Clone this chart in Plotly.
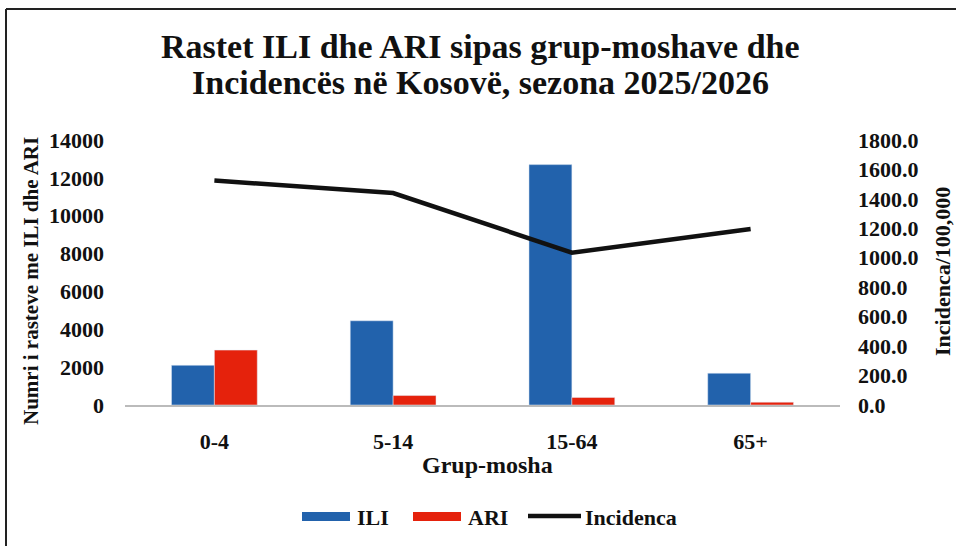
import plotly.graph_objects as go

categories = ["0-4", "5-14", "15-64", "65+"]
ili = [2100, 4450, 12700, 1680]
ari = [2900, 500, 400, 150]
incidenca = [1525, 1440, 1035, 1195]

W, H = 956, 546
L, R, T, B = 125, 840, 140, 405

def px(x):
    return (x - L) / (R - L)

def py(y):
    return (B - y) / (B - T)

FONT = "Liberation Serif"
INK = "#111111"
ILI_C = "#2262AC"
ARI_C = "#E5220C"

def bfont(size):
    return dict(size=size, family=FONT, color=INK, weight="bold")

fig = go.Figure()
fig.add_trace(go.Bar(x=categories, y=ili, name="ILI", marker_color=ILI_C, yaxis="y"))
fig.add_trace(go.Bar(x=categories, y=ari, name="ARI", marker_color=ARI_C, yaxis="y"))
fig.add_trace(go.Scatter(x=categories, y=incidenca, name="Incidenca", mode="lines",
                         line=dict(color=INK, width=4.5), yaxis="y2"))

ann = [
    dict(text="<b>Rastet ILI dhe ARI sipas grup-moshave dhe</b>", x=px(480), y=py(46),
         font=bfont(34)),
    dict(text="<b>Incidencës në Kosovë, sezona 2025/2026</b>", x=px(480), y=py(82),
         font=bfont(34)),
    dict(text="<b>Numri i rasteve me ILI dhe ARI</b>", textangle=-90,
         x=px(31), y=py(281), font=bfont(21)),
    dict(text="<b>Incidenca/100,000</b>", textangle=-90,
         x=px(942), y=py(272), font=bfont(22)),
    dict(text="<b>Grup-mosha</b>", x=px(487), y=py(465), font=bfont(24)),
    dict(text="<b>ILI</b>", x=px(355), y=py(517), xanchor="left", font=bfont(22)),
    dict(text="<b>ARI</b>", x=px(466), y=py(517), xanchor="left", font=bfont(22)),
    dict(text="<b>Incidenca</b>", x=px(583), y=py(517), xanchor="left", font=bfont(22)),
]
for a in ann:
    a.update(xref="paper", yref="paper", showarrow=False)
    a.setdefault("xanchor", "center")
    a.setdefault("yanchor", "middle")

shapes = [
    dict(type="line", x0=px(6), x1=px(6), y0=py(9), y1=py(546),
         line=dict(color="#222222", width=2)),
    dict(type="line", x0=px(6), x1=px(956), y0=py(9), y1=py(9),
         line=dict(color="#222222", width=2)),
    dict(type="rect", x0=px(302), x1=px(350), y0=py(512), y1=py(521),
         fillcolor=ILI_C, line=dict(width=0)),
    dict(type="rect", x0=px(413), x1=px(461), y0=py(512), y1=py(521),
         fillcolor=ARI_C, line=dict(width=0)),
    dict(type="line", x0=px(528), x1=px(581), y0=py(516), y1=py(516),
         line=dict(color=INK, width=4.5)),
]
for s in shapes:
    s.update(xref="paper", yref="paper", layer="above")

fig.update_layout(
    width=W, height=H,
    margin=dict(l=L, r=W - R, t=T, b=H - B, autoexpand=False),
    paper_bgcolor="white", plot_bgcolor="white",
    font=dict(family=FONT, color=INK),
    bargap=0.52, bargroupgap=0,
    showlegend=False,
    xaxis=dict(showgrid=False, showline=True, linecolor="#BBBBBB", linewidth=1.5,
               ticks="", tickfont=bfont(22), ticklabelstandoff=16, automargin=False),
    yaxis=dict(range=[0, 14000], dtick=2000, showgrid=False, zeroline=False,
               showline=False, tickfont=bfont(22), ticks="",
               ticklabelstandoff=20, tickformat="d", automargin=False),
    yaxis2=dict(range=[0, 1800], dtick=200, overlaying="y", side="right",
                showgrid=False, zeroline=False, showline=False, ticks="",
                tickfont=bfont(22), tickformat=".1f", ticklabelstandoff=17,
                automargin=False),
    annotations=ann,
    shapes=shapes,
)

fig.write_html("out.html",
               config={"displayModeBar": False},
               post_script="document.body.style.margin='0';document.body.style.overflow='hidden';")
